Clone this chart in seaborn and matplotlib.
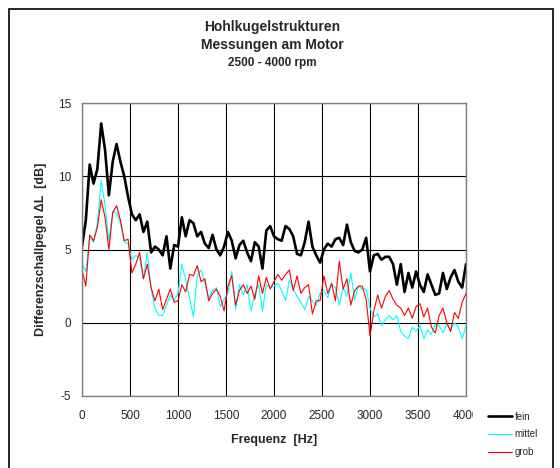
import numpy as np
import pandas as pd
import matplotlib
matplotlib.use("Agg")
import matplotlib.pyplot as plt
import matplotlib.patches as mpatches
import seaborn as sns

# ── Data (40 Hz steps) ────────────────────────────────────────────────────────
freq = np.arange(0, 4001, 40)

fein = [
    5.2, 7.0, 10.8, 9.5, 10.5, 13.6, 11.8, 8.7, 11.0, 12.2,
    11.0, 10.0, 8.6, 7.4, 7.0, 7.4, 6.2, 6.9, 4.8, 5.2,
    5.0, 4.6, 5.9, 3.7, 5.3, 5.2, 7.2, 5.9, 7.0, 6.8,
    5.9, 6.2, 5.4, 5.1, 6.0, 5.0, 4.6, 5.2, 6.2, 5.6,
    4.4, 5.3, 5.6, 4.8, 4.2, 5.5, 5.2, 3.7, 6.3, 6.6,
    5.9, 5.7, 5.6, 6.6, 6.4, 5.9, 4.7, 4.6, 5.5, 6.9,
    5.2, 4.6, 4.1, 5.0, 5.4, 5.2, 5.7, 5.8, 5.3, 6.7,
    5.5, 4.9, 4.8, 5.0, 5.8, 3.5, 4.6, 4.7, 4.3, 4.5,
    4.5, 4.0, 2.6, 4.0, 2.1, 3.4, 2.4, 3.5, 2.6, 2.1,
    3.3, 2.6, 1.9, 2.0, 3.4, 2.3, 3.1, 3.6, 2.8, 2.4,
    4.0,
]

mittel = [
    4.0, 3.5, 5.8, 5.5, 6.8, 9.7, 8.0, 5.6, 7.6, 7.5,
    6.8, 5.5, 5.4, 4.3, 4.6, 4.4, 3.0, 4.8, 2.3, 1.0,
    0.5, 0.5, 1.2, 1.9, 1.5, 2.0, 4.0, 2.9, 1.7, 0.4,
    3.2, 3.6, 2.7, 1.7, 2.2, 2.4, 1.1, 1.6, 2.0, 3.5,
    0.9, 2.6, 1.9, 2.6, 0.8, 2.0, 2.6, 0.8, 2.6, 2.4,
    2.5, 2.7, 2.2, 1.5, 2.9, 2.3, 1.8, 1.4, 0.9, 1.8,
    1.5, 1.2, 2.0, 2.2, 1.7, 2.6, 2.4, 1.2, 2.4, 1.8,
    3.4, 1.6, 2.5, 2.3, 2.3, 1.0, 0.4, 0.6, -0.2, 0.2,
    0.5, 0.2, 0.5, -0.6, -0.9, -1.1, -0.3, -0.6, -0.2, -1.1,
    -0.5, -0.8, -0.1, -0.2, -0.7, -0.1, -0.5, 0.0, -0.3, -1.1,
    -0.2,
]

grob = [
    3.6, 2.5, 6.0, 5.6, 6.5, 8.4, 7.2, 5.0, 7.5, 8.0,
    7.0, 5.6, 5.7, 3.4, 4.0, 4.8, 3.0, 4.0, 2.4, 1.5,
    2.3, 0.9, 1.6, 2.3, 1.4, 1.5, 2.6, 2.1, 3.3, 3.2,
    3.9, 2.8, 3.0, 1.5, 2.0, 2.3, 1.8, 0.8, 2.5, 3.2,
    1.2, 2.2, 2.6, 2.0, 2.5, 1.6, 3.2, 2.0, 3.1, 2.3,
    2.8, 3.3, 2.9, 3.3, 3.6, 2.2, 3.2, 2.0, 2.4, 2.6,
    0.6, 1.5, 1.5, 3.2, 2.0, 2.7, 1.5, 4.2, 2.3, 3.0,
    1.2, 2.2, 2.5, 2.5, 1.6, -0.9, 0.8, 1.9, 1.0, 1.8,
    2.2, 1.6, 1.2, 1.0, 0.5, 1.0, 0.3, 1.1, 1.3, 0.4,
    1.0, -0.3, -0.7, 0.5, 1.0, 0.0, -0.6, 0.7, 0.3, 1.4,
    2.0,
]

x_ticks = [0, 500, 1000, 1500, 2000, 2500, 3000, 3500, 4000]
x_ticklabels = ["0", "500", "1000", "1500", "2000", "2500", "3000", "3500", "4000"]
y_ticks = [-5, 0, 5, 10, 15]

df = pd.DataFrame({"freq": freq, "fein": fein, "mittel": mittel, "grob": grob})

# ── Style ─────────────────────────────────────────────────────────────────────
sns.set_style("white")
plt.rcParams["font.family"] = ["Liberation Sans", "DejaVu Sans"]

fig = plt.figure(figsize=(5.6, 4.68), dpi=100)
ax = fig.add_axes([82 / 560, 1 - 396 / 468, 384 / 560, 293 / 468])

sns.lineplot(data=df, x="freq", y="fein", ax=ax, color="black", linewidth=1.9, label="fein")
sns.lineplot(data=df, x="freq", y="mittel", ax=ax, color="#00FFFF", linewidth=0.8, label="mittel")
sns.lineplot(data=df, x="freq", y="grob", ax=ax, color="#FF0000", linewidth=0.8, label="grob")

ax.set_xlim(0, 4000)
ax.set_ylim(-5, 15)
ax.set_xticks(x_ticks)
ax.set_xticklabels(x_ticklabels, fontsize=8.5)
ax.set_yticks(y_ticks)
ax.set_yticklabels([str(v) for v in y_ticks], fontsize=8.5)
ax.tick_params(axis="both", direction="out", length=4, width=0.8, color="#444444", pad=4)
ax.tick_params(axis="x", pad=6)
ax.grid(True, color="black", linewidth=0.8)
for s in ax.spines.values():
    s.set_color("#808080")
    s.set_linewidth(1.0)

ax.set_xlabel("Frequenz  [Hz]", fontsize=9, fontweight="bold", labelpad=9)
ax.set_ylabel("Differenzschallpegel \u0394L  [dB]", fontsize=9, fontweight="bold", labelpad=8)

# legend outside, right below the plot
handles, labels = ax.get_legend_handles_labels()
ax.get_legend().remove()
fig.legend(handles, labels, loc="upper left",
           bbox_to_anchor=(474 / 560, 1 - 398 / 468),
           fontsize=7, frameon=False,
           handlelength=2.5, handletextpad=0.3, labelspacing=0.8,
           borderpad=1.4, borderaxespad=0)

# the legend area hides the tail of the last tick label
fig.add_artist(mpatches.Rectangle((473 / 560, 1 - 425 / 468), 14 / 560, 22 / 468,
                                  transform=fig.transFigure, facecolor="white",
                                  edgecolor="none", zorder=10))

# titles
fig.text(272 / 560, 1 - 27 / 468, "Hohlkugelstrukturen", ha="center", va="center",
         fontsize=10, fontweight="bold")
fig.text(272 / 560, 1 - 45 / 468, "Messungen am Motor", ha="center", va="center",
         fontsize=10, fontweight="bold")
fig.text(272 / 560, 1 - 63 / 468, "2500 - 4000 rpm", ha="center", va="center",
         fontsize=8.5, fontweight="bold")

# outer chart frame
fig.add_artist(mpatches.Rectangle((9 / 560, -0.01), 544 / 560, 1 - 9 / 468 + 0.01,
                                  transform=fig.transFigure, fill=False,
                                  edgecolor="black", linewidth=1.2, zorder=11))

fig.savefig("out.png", dpi=100)
